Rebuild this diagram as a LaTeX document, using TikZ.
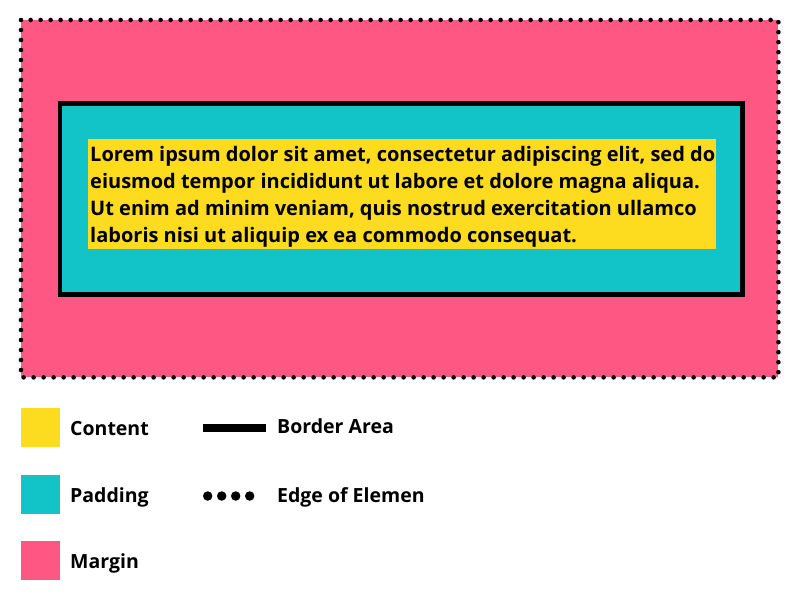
\documentclass[tikz,border=0pt]{standalone}
\usepackage{fontspec}
\setmainfont{Open Sans}
\definecolor{marginpink}{HTML}{FF5783}
\definecolor{padteal}{HTML}{12C4C7}
\definecolor{contyellow}{HTML}{FDDB1F}
\begin{document}
\begin{tikzpicture}[x=1pt,y=-1pt,
  box/.style={draw=none,inner sep=0pt,anchor=north west},
  lorem/.style={inner sep=0pt,anchor=base west,align=left,font=\fontsize{20}{27}\selectfont\bfseries},
  legendtext/.style={inner sep=0pt,anchor=base west,font=\fontsize{19.5}{24}\selectfont\bfseries},
  swatch/.style={box,minimum width=39pt,minimum height=39pt}]
\useasboundingbox (0,0) rectangle (798,596);
% margin
\node[box,fill=marginpink,minimum width=757pt,minimum height=357pt] (margin) at (21,20) {};
\draw[line width=4.6pt,dash pattern=on 0pt off 10pt,line cap=round] (margin.north west) rectangle (margin.south east);
% padding with border
\node[box,fill=padteal,minimum width=682pt,minimum height=190.5pt] (padding) at (60,103.5) {};
\draw[line width=4.5pt] (padding.north west) rectangle (padding.south east);
% content
\node[box,fill=contyellow,minimum width=628pt,minimum height=110pt] (content) at (88,139) {};
\node[lorem] (text) at (90,242.7) {Lorem ipsum dolor sit amet, consectetur adipiscing elit, sed do\\eiusmod tempor incididunt ut labore et dolore magna aliqua.\\Ut enim ad minim veniam, quis nostrud exercitation ullamco\\laboris nisi ut aliquip ex ea commodo consequat.};
% legend
\node[swatch,fill=contyellow] (sw1) at (21,408) {};
\node[swatch,fill=padteal] (sw2) at (21,475) {};
\node[swatch,fill=marginpink] (sw3) at (21,541) {};
\node[legendtext] (l1) at (70,435) {Content};
\node[legendtext] (l2) at (70,502) {Padding};
\node[legendtext] (l3) at (70,568) {Margin};
\coordinate (b1) at (203,427.5);
\coordinate (b2) at (266,427.5);
\draw[line width=8pt] (b1) -- (b2);
\coordinate (d1) at (207.7,496);
\coordinate (d2) at (250,496);
\draw[line width=9.5pt,dash pattern=on 0pt off 14pt,line cap=round] (d1) -- (d2);
\node[legendtext] (l4) at (277,433) {Border Area};
\node[legendtext] (l5) at (277,502) {Edge of Elemen};
\end{tikzpicture}
\end{document}
